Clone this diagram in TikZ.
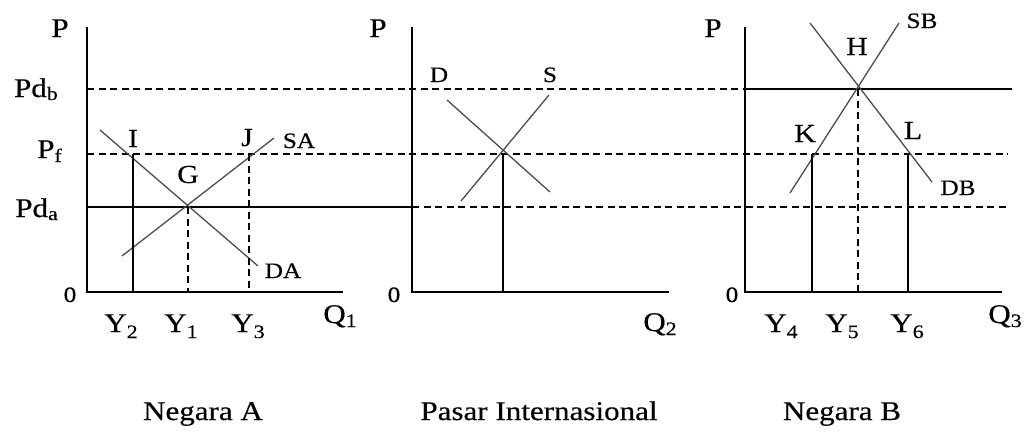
\documentclass[tikz,border=0pt]{standalone}
\usepackage{fontspec}
\setmainfont{Liberation Serif}[FakeStretch=1.15, FakeBold=0.4]
\newcommand{\subx}[2][5pt]{\raisebox{-#1}{\fontsize{19}{20}\selectfont #2}}
\begin{document}
\begin{tikzpicture}[x=1pt, y=-1pt,
  axis/.style={line width=1.3pt},
  curve/.style={black!70, line width=1.3pt},
  guide/.style={line width=1.1pt, dash pattern=on 7pt off 4.5pt},
  lbl/.style={font=\fontsize{27}{30}\selectfont, inner sep=0pt, anchor=base},
  pt/.style={font=\fontsize{26}{30}\selectfont, inner sep=0pt, anchor=base},
  crv/.style={font=\fontsize{22}{24}\selectfont, inner sep=0pt, anchor=base},
  zero/.style={font=\fontsize{22}{26}\selectfont, inner sep=0pt, anchor=base},
  ttl/.style={font=\fontsize{27}{30}\selectfont, inner sep=0pt, anchor=base}]
  \useasboundingbox (0,0) rectangle (1025,432);

  % Axes origins and ends
  \coordinate (A0) at (87,292);  \coordinate (Atop) at (87,27);  \coordinate (Aend) at (343,292);
  \coordinate (B0) at (412,292); \coordinate (Btop) at (412,27); \coordinate (Bend) at (669,292);
  \coordinate (C0) at (745,292); \coordinate (Ctop) at (745,27); \coordinate (Cend) at (1002,292);
  % Equilibrium points
  \coordinate (G) at (188,207); \coordinate (I) at (133,154); \coordinate (J) at (249,154);
  \coordinate (E) at (503,153);
  \coordinate (H) at (858,89);  \coordinate (K) at (812,154); \coordinate (L) at (908,154);

  % Price levels
  \draw[guide] (A0 |- H) -- (C0 |- H);
  \draw[axis] (C0 |- H) -- (1012,89);
  \draw[guide] (A0 |- I) -- (1008,154);
  \draw[axis] (A0 |- G) -- (B0 |- G);
  \draw[guide] (B0 |- G) -- (1008,207);

  % Negara A
  \draw[axis] (Atop) -- (A0) -- (Aend);
  \draw[curve] (100,130) -- (258,266);
  \draw[curve] (122,256) -- (274,138);
  \draw[axis] (I) -- (I |- A0);
  \draw[guide] (G) -- (G |- A0);
  \draw[guide] (J) -- (J |- A0);

  % Pasar Internasional
  \draw[axis] (Btop) -- (B0) -- (Bend);
  \draw[curve] (447,100) -- (550,192);
  \draw[curve] (461,201) -- (549,95);
  \draw[axis] (E) -- (E |- B0);

  % Negara B
  \draw[axis] (Ctop) -- (C0) -- (Cend);
  \draw[curve] (810,23) -- (932,182);
  \draw[curve] (790,193) -- (899,23);
  \draw[axis] (K) -- (K |- C0);
  \draw[axis] (L) -- (L |- C0);
  \draw[guide] (H) -- (H |- C0);

  % Price labels
  \node[lbl] (pA) at (60,37) {P};
  \node[lbl] (pB) at (378,37) {P};
  \node[lbl] (pC) at (713,37) {P};
  \node[lbl, anchor=base east] (pdb) at (58,97) {Pd\subx[3pt]{b}};
  \node[lbl, anchor=base east] (pf) at (62,158) {P\subx[4pt]{f}};
  \node[lbl, anchor=base east] (pda) at (58,217) {Pd\subx[3pt]{a}};
  \node[zero] (zA) at (70,302) {0};
  \node[zero] (zB) at (394,302) {0};
  \node[zero] (zC) at (732,302) {0};

  % Point and curve labels
  \node[pt] (lI) at (133,147) {I};
  \node[pt] (lJ) at (247,146) {J};
  \node[pt] (lG) at (188,183) {G};
  \node[crv] (lSA) at (299,148) {SA};
  \node[crv] (lDA) at (283,278) {DA};
  \node[crv] (lD) at (439,82) {D};
  \node[crv] (lS) at (550,82) {S};
  \node[pt] (lH) at (857,55) {H};
  \node[crv] (lSB) at (922,28) {SB};
  \node[pt] (lK) at (805,142) {K};
  \node[pt] (lL) at (913,139) {L};
  \node[crv] (lDB) at (958,195) {DB};

  % Quantity labels
  \node[lbl] (y2) at (121,332) {Y\subx[6pt]{2}};
  \node[lbl] (y1) at (181,332) {Y\subx[6pt]{1}};
  \node[lbl] (y3) at (248,332) {Y\subx[6pt]{3}};
  \node[lbl] (q1) at (340,323) {Q\subx[4pt]{1}};
  \node[lbl] (q2) at (660,331) {Q\subx[4pt]{2}};
  \node[lbl] (y4) at (781,332) {Y\subx[6pt]{4}};
  \node[lbl] (y5) at (842,332) {Y\subx[6pt]{5}};
  \node[lbl] (y6) at (907,332) {Y\subx[6pt]{6}};
  \node[lbl] (q3) at (1005,323) {Q\subx[4pt]{3}};

  % Panel titles
  \node[ttl] (tA) at (203,420) {Negara A};
  \node[ttl] (tB) at (539,420) {Pasar Internasional};
  \node[ttl] (tC) at (842,420) {Negara B};
\end{tikzpicture}
\end{document}
